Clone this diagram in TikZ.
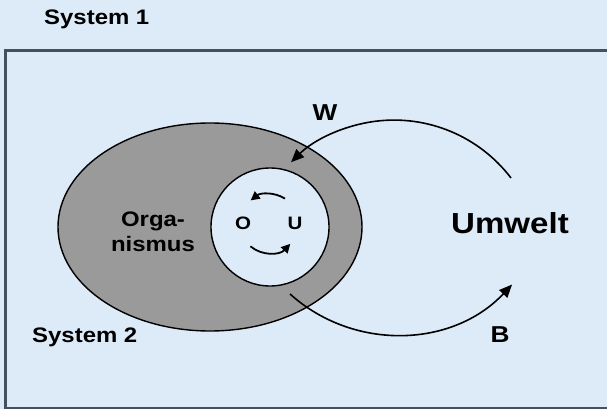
\documentclass[tikz,border=0pt]{standalone}
\usepackage{fontspec}
\setmainfont{Liberation Sans}[FakeStretch=1.14]
\usetikzlibrary{arrows.meta}
\definecolor{bgblue}{RGB}{221,234,247}
\definecolor{organgrey}{RGB}{154,154,154}
\definecolor{framegrey}{RGB}{70,80,90}
\tikzset{
  lbl/.style={inner sep=0pt, anchor=base, font=\bfseries\fontsize{21}{25}\selectfont},
  wblbl/.style={inner sep=0pt, anchor=base, font=\bfseries\fontsize{23}{25}\selectfont},
  biglbl/.style={inner sep=0pt, anchor=base, font=\bfseries\fontsize{29}{32}\selectfont},
  smalllbl/.style={inner sep=0pt, anchor=base, font=\bfseries\fontsize{18}{20}\selectfont},
  flow/.style={line width=1.6pt, -{Triangle[length=13pt,width=11pt]}},
  cycle/.style={line width=1.8pt, -{Triangle[length=9pt,width=9pt]}}
}
\begin{document}
\begin{tikzpicture}[x=1pt,y=-1pt]
\useasboundingbox (0,0) rectangle (607,409);
\fill[bgblue] (0,0) rectangle (607,409);
% System 2 frame
\draw[framegrey, line width=3pt] (620,51) -- (5,51) -- (5,408) -- (620,408);
% organism
\draw[fill=organgrey, line width=1.4pt] (210,227) ellipse [x radius=152, y radius=104];
\node[circle, draw, line width=1.4pt, fill=bgblue, minimum size=118pt, inner sep=0pt] (inner) at (270,227) {};
% labels
\node[lbl, anchor=base west] (sys1) at (44,25) {System 1};
\node[lbl, anchor=base west] (sys2) at (32,342) {System 2};
\node[lbl, align=center, anchor=north] (org) at (153,212) {Orga-\\nismus};
\node[smalllbl] (O) at (243,229) {O};
\node[smalllbl] (U) at (295,229) {U};
\node[biglbl] (umwelt) at (510,233) {Umwelt};
\node[wblbl] (W) at (325,121) {W};
\node[wblbl] (B) at (500,342) {B};
% flows
\coordinate (wstart) at (511,178);
\coordinate (bstart) at (290,294);
\draw[flow] (wstart) arc[start angle=-37.3, end angle=-134.5, radius=147];
\draw[flow] (bstart) arc[start angle=131.9, end angle=43.2, radius=159];
% inner cycle
\coordinate (ctop) at (285,198.6);
\coordinate (cbot) at (250.4,246.3);
\draw[cycle] (ctop) arc[start angle=-58, end angle=-128, radius=30];
\draw[cycle] (cbot) arc[start angle=130, end angle=43, radius=29];
\end{tikzpicture}
\end{document}
